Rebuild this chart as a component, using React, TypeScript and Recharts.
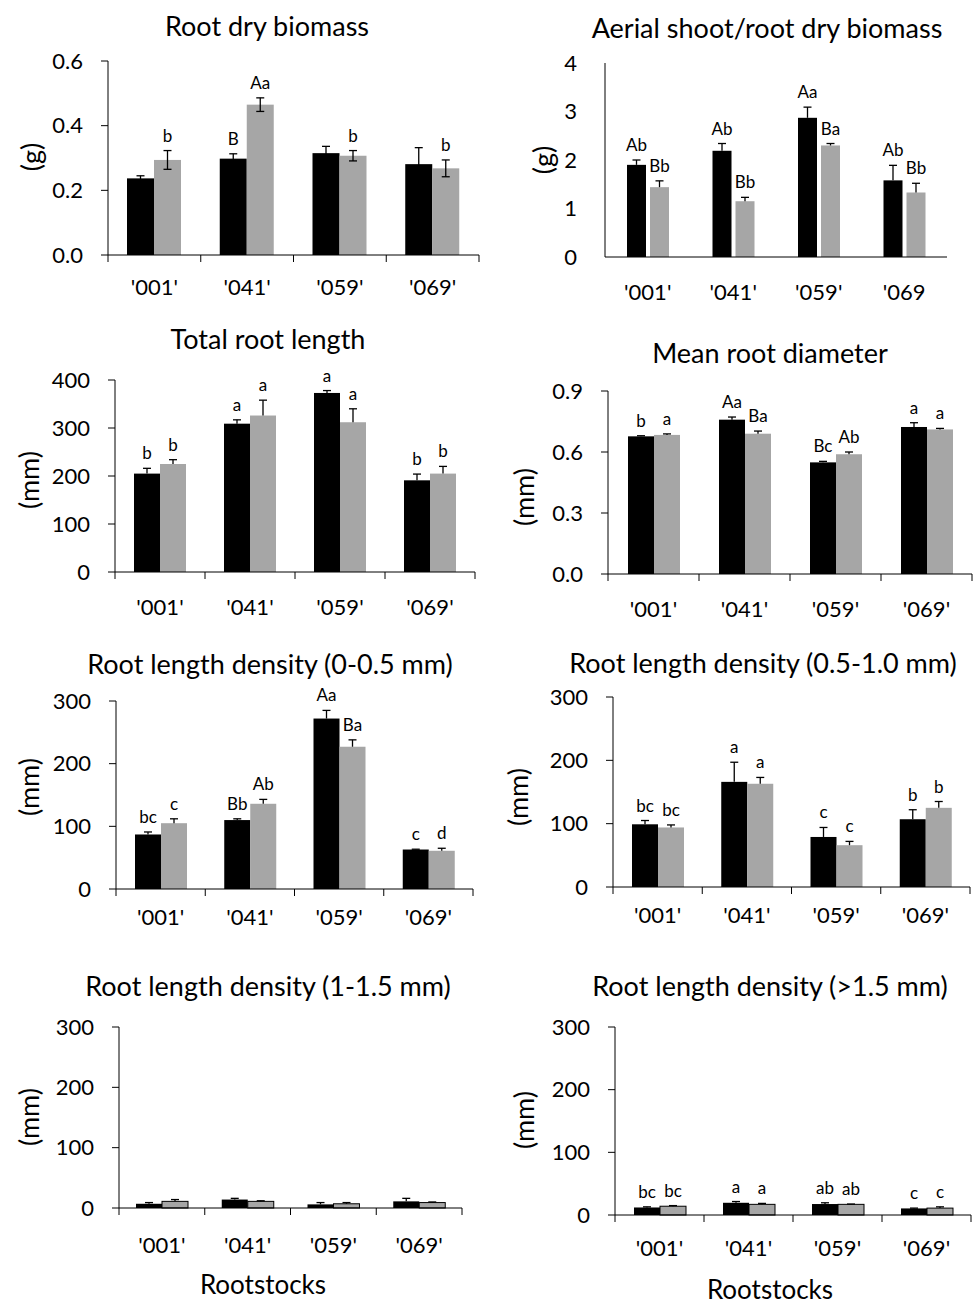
import React from "react";
import { BarChart, Bar, XAxis, YAxis } from "recharts";

const FONT = "Lato, 'Open Sans', sans-serif";
const BLACK = "#000000";
const GREY = "#a6a6a6";

const rootstocks = ["'001'", "'041'", "'059'", "'069'"];
const rootstocksAerial = ["'001'", "'041'", "'059'", "'069"];

// Root dry biomass (g)
const rdbBlack = [0.237, 0.298, 0.315, 0.281];
const rdbBlackErr = [0.008, 0.015, 0.021, 0.051];
const rdbGrey = [0.294, 0.465, 0.307, 0.268];
const rdbGreyErr = [0.029, 0.021, 0.016, 0.026];
const rdbBlackLbl = ["", "B", "", ""];
const rdbGreyLbl = ["b", "Aa", "b", "b"];
const rdbTicks = [0, 0.2, 0.4, 0.6];

// Aerial shoot/root dry biomass
const asrBlack = [1.9, 2.19, 2.87, 1.58];
const asrBlackErr = [0.1, 0.15, 0.22, 0.31];
const asrGrey = [1.44, 1.15, 2.3, 1.33];
const asrGreyErr = [0.13, 0.08, 0.04, 0.19];
const asrBlackLbl = ["Ab", "Ab", "Aa", "Ab"];
const asrGreyLbl = ["Bb", "Bb", "Ba", "Bb"];
const asrTicks = [0, 1, 2, 3, 4];

// Total root length (mm)
const trlBlack = [205, 309, 373, 191];
const trlBlackErr = [11, 8, 5, 13];
const trlGrey = [225, 326, 312, 205];
const trlGreyErr = [9, 32, 28, 15];
const trlBlackLbl = ["b", "a", "a", "b"];
const trlGreyLbl = ["b", "a", "a", "b"];
const trlTicks = [0, 100, 200, 300, 400];

// Mean root diameter (mm)
const mrdBlack = [0.677, 0.759, 0.549, 0.723];
const mrdBlackErr = [0.003, 0.013, 0.005, 0.021];
const mrdGrey = [0.684, 0.69, 0.589, 0.711];
const mrdGreyErr = [0.005, 0.013, 0.011, 0.005];
const mrdBlackLbl = ["b", "Aa", "Bc", "a"];
const mrdGreyLbl = ["a", "Ba", "Ab", "a"];
const mrdTicks = [0, 0.3, 0.6, 0.9];

// Root length density (0-0.5 mm)
const rld1Black = [87, 110, 272, 63];
const rld1BlackErr = [4, 2, 13, 0.5];
const rld1Grey = [105, 136, 227, 61];
const rld1GreyErr = [7, 7, 11, 4];
const rld1BlackLbl = ["bc", "Bb", "Aa", "c"];
const rld1GreyLbl = ["c", "Ab", "Ba", "d"];

// Root length density (0.5-1.0 mm)
const rld2Black = [99, 166, 79, 107];
const rld2BlackErr = [6, 31, 15, 15];
const rld2Grey = [94, 163, 66, 125];
const rld2GreyErr = [4, 10, 6, 10];
const rld2BlackLbl = ["bc", "a", "c", "b"];
const rld2GreyLbl = ["bc", "a", "c", "b"];

// Root length density (1-1.5 mm)
const rld3Black = [7, 14, 6, 11];
const rld3BlackErr = [2, 2, 3, 5];
const rld3Grey = [11, 11, 7, 9];
const rld3GreyErr = [3, 1, 2, 1];
const rld3BlackLbl = ["", "", "", ""];
const rld3GreyLbl = ["", "", "", ""];

// Root length density (>1.5 mm)
const rld4Black = [12, 19.5, 17.5, 10.5];
const rld4BlackErr = [1, 2, 2, 0.5];
const rld4Grey = [14, 17, 17, 11];
const rld4GreyErr = [1, 1.5, 0.5, 2];
const rld4BlackLbl = ["bc", "a", "ab", "c"];
const rld4GreyLbl = ["bc", "a", "ab", "c"];

const rldTicks = [0, 100, 200, 300];

type Series = {
  black: number[];
  blackErr: number[];
  grey: number[];
  greyErr: number[];
  blackLbl: string[];
  greyLbl: string[];
};

type Layout = {
  x0: number;
  x1: number;
  y0: number;
  y1: number;
  barSize: number;
  barGap: number;
  yTickLine: boolean;
  yTickMargin: number;
  catOffset: number;
  errBoth: boolean;
  outline: boolean;
  titleX: number;
  titleY: number;
  ylX: number;
  ylY: number;
  xAxisTicks: boolean;
};

const buildRows = (cats: string[], s: Series) =>
  cats.map((c, i) => ({
    cat: c,
    black: s.black[i],
    blackErr: s.blackErr[i],
    grey: s.grey[i],
    greyErr: s.greyErr[i],
    blackLbl: s.blackLbl[i],
    greyLbl: s.greyLbl[i],
  }));

const makeShape =
  (color: string, vKey: string, eKey: string, lKey: string, both: boolean, outline: boolean) =>
  (props: any) => {
    const { x, y, width, height, payload } = props;
    const v = payload[vKey];
    const e = payload[eKey];
    const lbl = payload[lKey];
    const ppu = v ? height / v : 0;
    const ePx = e * ppu;
    const cx = x + width / 2;
    const top = y - ePx;
    const bot = both ? y + ePx : y;
    return (
      <g>
        <rect
          x={x}
          y={y}
          width={width}
          height={height}
          fill={color}
          stroke={outline ? "#000" : "none"}
          strokeWidth={outline ? 1 : 0}
        />
        {e > 0 && <line x1={cx} x2={cx} y1={top} y2={bot} stroke="#000" strokeWidth={1.3} />}
        {e > 0 && <line x1={cx - 4} x2={cx + 4} y1={top} y2={top} stroke="#000" strokeWidth={1.3} />}
        {e > 0 && both && (
          <line x1={cx - 4} x2={cx + 4} y1={bot} y2={bot} stroke="#000" strokeWidth={1.3} />
        )}
        {lbl && (
          <text
            x={cx}
            y={top - 9}
            textAnchor="middle"
            fontSize={17}
            fontFamily={FONT}
            fill="#000"
          >
            {lbl}
          </text>
        )}
      </g>
    );
  };

const YW = 90;
const MT = 25;
const XH = 60;
const MR = 3;

function Panel({
  title,
  yLabel,
  cats,
  series,
  ticks,
  decimals,
  L,
}: {
  title: string;
  yLabel: string;
  cats: string[];
  series: Series;
  ticks: number[];
  decimals: number;
  L: Layout;
}) {
  const rows = buildRows(cats, series);
  const left = L.x0 - YW;
  const top = L.y0 - MT;
  const w = L.x1 - L.x0 + YW + MR;
  const h = L.y1 - L.y0 + MT + XH;
  const yMax = ticks[ticks.length - 1];
  const CatTick = (p: any) => {
    const n = p.visibleTicksCount || cats.length;
    const band =
      p.payload && p.payload.offset ? p.payload.offset * 2 : (p.width || 0) / n;
    const idx = p.index ?? 0;
    const axisY = p.y;
    const lx = p.x - band / 2;
    const rx = p.x + band / 2;
    return (
      <g>
        {L.xAxisTicks && (
          <line x1={lx} x2={lx} y1={axisY} y2={axisY + 7} stroke="#000" strokeWidth={1} />
        )}
        {L.xAxisTicks && idx === n - 1 && (
          <line x1={rx} x2={rx} y1={axisY} y2={axisY + 7} stroke="#000" strokeWidth={1} />
        )}
        <text
          x={p.x}
          y={axisY + L.catOffset}
          dy="0.36em"
          textAnchor="middle"
          fontSize={22}
          fontFamily={FONT}
          fill="#000"
        >
          {p.payload.value}
        </text>
      </g>
    );
  };
  return (
    <>
      <div
        style={{
          position: "absolute",
          left: L.titleX,
          top: L.titleY,
          transform: "translate(-50%, -50%)",
          fontFamily: FONT,
          fontSize: 27,
          whiteSpace: "nowrap",
          color: "#000",
        }}
      >
        {title}
      </div>
      <div
        style={{
          position: "absolute",
          left: L.ylX,
          top: L.ylY,
          transform: "translate(-50%, -50%) rotate(-90deg)",
          fontFamily: FONT,
          fontSize: 27,
          whiteSpace: "nowrap",
          color: "#000",
        }}
      >
        {yLabel}
      </div>
      <div style={{ position: "absolute", left, top }}>
        <BarChart
          width={w}
          height={h}
          data={rows}
          margin={{ top: MT, right: MR, bottom: 0, left: 0 }}
          barGap={L.barGap}
          barSize={L.barSize}
        >
          <XAxis
            dataKey="cat"
            type="category"
            axisLine={{ stroke: "#000" }}
            tickLine={false}
            tickSize={0}
            tickMargin={0}
            height={XH}
            interval={0}
            tick={CatTick}
          />
          <YAxis
            width={YW}
            domain={[0, yMax]}
            ticks={ticks}
            interval={0}
            tickSize={L.yTickLine ? 7 : 0}
            tickMargin={L.yTickMargin}
            tickLine={L.yTickLine ? { stroke: "#000" } : false}
            axisLine={{ stroke: "#000" }}
            tick={{ fontSize: 22, fontFamily: FONT, fill: "#000" }}
            tickFormatter={(v: number) => v.toFixed(decimals)}
          />
          <Bar
            dataKey="black"
            isAnimationActive={false}
            shape={makeShape(BLACK, "black", "blackErr", "blackLbl", L.errBoth, false)}
          />
          <Bar
            dataKey="grey"
            isAnimationActive={false}
            shape={makeShape(GREY, "grey", "greyErr", "greyLbl", L.errBoth, L.outline)}
          />
        </BarChart>
      </div>
    </>
  );
}

const base = {
  barGap: 0,
  yTickLine: true,
  yTickMargin: 18,
  errBoth: false,
  outline: false,
  xAxisTicks: true,
};

export default function App() {
  return (
    <div
      style={{
        position: "absolute",
        left: 0,
        top: 0,
        width: 976,
        height: 1305,
        background: "#fff",
        overflow: "hidden",
      }}
    >
      <Panel
        title="Root dry biomass"
        yLabel="(g)"
        cats={rootstocks}
        ticks={rdbTicks}
        decimals={1}
        series={{
          black: rdbBlack,
          blackErr: rdbBlackErr,
          grey: rdbGrey,
          greyErr: rdbGreyErr,
          blackLbl: rdbBlackLbl,
          greyLbl: rdbGreyLbl,
        }}
        L={{
          ...base,
          x0: 108,
          x1: 479,
          y0: 61,
          y1: 255,
          barSize: 27,
          errBoth: true,
          catOffset: 32,
          titleX: 267,
          titleY: 25,
          ylX: 30,
          ylY: 157,
        }}
      />
      <Panel
        title="Aerial shoot/root dry biomass"
        yLabel="(g)"
        cats={rootstocksAerial}
        ticks={asrTicks}
        decimals={0}
        series={{
          black: asrBlack,
          blackErr: asrBlackErr,
          grey: asrGrey,
          greyErr: asrGreyErr,
          blackLbl: asrBlackLbl,
          greyLbl: asrGreyLbl,
        }}
        L={{
          ...base,
          x0: 605,
          x1: 947,
          y0: 63,
          y1: 257,
          barSize: 19,
          barGap: 4,
          yTickLine: false,
          yTickMargin: 28,
          xAxisTicks: false,
          catOffset: 35,
          titleX: 767,
          titleY: 27,
          ylX: 542,
          ylY: 160,
        }}
      />
      <Panel
        title="Total root length"
        yLabel="(mm)"
        cats={rootstocks}
        ticks={trlTicks}
        decimals={0}
        series={{
          black: trlBlack,
          blackErr: trlBlackErr,
          grey: trlGrey,
          greyErr: trlGreyErr,
          blackLbl: trlBlackLbl,
          greyLbl: trlGreyLbl,
        }}
        L={{
          ...base,
          x0: 115,
          x1: 475,
          y0: 380,
          y1: 572,
          barSize: 26,
          catOffset: 35,
          titleX: 268,
          titleY: 338,
          ylX: 28,
          ylY: 480,
        }}
      />
      <Panel
        title="Mean root diameter"
        yLabel="(mm)"
        cats={rootstocks}
        ticks={mrdTicks}
        decimals={1}
        series={{
          black: mrdBlack,
          blackErr: mrdBlackErr,
          grey: mrdGrey,
          greyErr: mrdGreyErr,
          blackLbl: mrdBlackLbl,
          greyLbl: mrdGreyLbl,
        }}
        L={{
          ...base,
          x0: 608,
          x1: 972,
          y0: 391,
          y1: 574,
          barSize: 26,
          catOffset: 35,
          titleX: 770,
          titleY: 352,
          ylX: 523,
          ylY: 497,
        }}
      />
      <Panel
        title="Root length density (0-0.5 mm)"
        yLabel="(mm)"
        cats={rootstocks}
        ticks={rldTicks}
        decimals={0}
        series={{
          black: rld1Black,
          blackErr: rld1BlackErr,
          grey: rld1Grey,
          greyErr: rld1GreyErr,
          blackLbl: rld1BlackLbl,
          greyLbl: rld1GreyLbl,
        }}
        L={{
          ...base,
          x0: 116,
          x1: 473,
          y0: 701,
          y1: 889,
          barSize: 26,
          catOffset: 28,
          titleX: 270,
          titleY: 663,
          ylX: 28,
          ylY: 787,
        }}
      />
      <Panel
        title="Root length density (0.5-1.0 mm)"
        yLabel="(mm)"
        cats={rootstocks}
        ticks={rldTicks}
        decimals={0}
        series={{
          black: rld2Black,
          blackErr: rld2BlackErr,
          grey: rld2Grey,
          greyErr: rld2GreyErr,
          blackLbl: rld2BlackLbl,
          greyLbl: rld2GreyLbl,
        }}
        L={{
          ...base,
          x0: 613,
          x1: 970,
          y0: 697,
          y1: 887,
          barSize: 26,
          catOffset: 28,
          titleX: 763,
          titleY: 662,
          ylX: 517,
          ylY: 797,
        }}
      />
      <Panel
        title="Root length density (1-1.5 mm)"
        yLabel="(mm)"
        cats={rootstocks}
        ticks={rldTicks}
        decimals={0}
        series={{
          black: rld3Black,
          blackErr: rld3BlackErr,
          grey: rld3Grey,
          greyErr: rld3GreyErr,
          blackLbl: rld3BlackLbl,
          greyLbl: rld3GreyLbl,
        }}
        L={{
          ...base,
          x0: 119,
          x1: 462,
          y0: 1027,
          y1: 1208,
          barSize: 26,
          outline: true,
          catOffset: 37,
          titleX: 268,
          titleY: 985,
          ylX: 28,
          ylY: 1117,
        }}
      />
      <Panel
        title="Root length density (>1.5 mm)"
        yLabel="(mm)"
        cats={rootstocks}
        ticks={rldTicks}
        decimals={0}
        series={{
          black: rld4Black,
          blackErr: rld4BlackErr,
          grey: rld4Grey,
          greyErr: rld4GreyErr,
          blackLbl: rld4BlackLbl,
          greyLbl: rld4GreyLbl,
        }}
        L={{
          ...base,
          x0: 615,
          x1: 971,
          y0: 1027,
          y1: 1215,
          barSize: 26,
          outline: true,
          catOffset: 33,
          titleX: 770,
          titleY: 985,
          ylX: 523,
          ylY: 1120,
        }}
      />
      <div
        style={{
          position: "absolute",
          left: 263,
          top: 1284,
          transform: "translate(-50%, -50%)",
          fontFamily: FONT,
          fontSize: 26,
          whiteSpace: "nowrap",
        }}
      >
        Rootstocks
      </div>
      <div
        style={{
          position: "absolute",
          left: 770,
          top: 1289,
          transform: "translate(-50%, -50%)",
          fontFamily: FONT,
          fontSize: 26,
          whiteSpace: "nowrap",
        }}
      >
        Rootstocks
      </div>
    </div>
  );
}
